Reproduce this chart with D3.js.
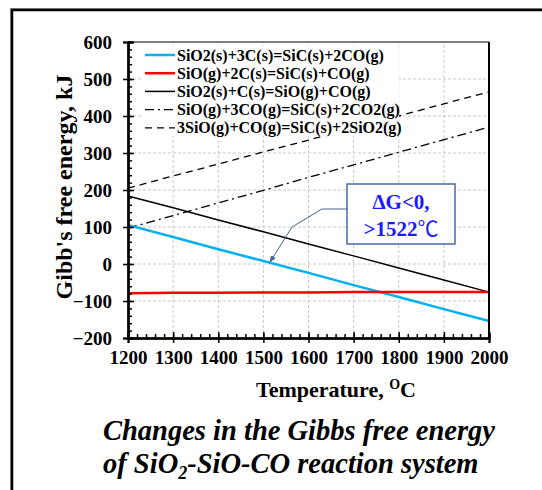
<!DOCTYPE html>
<html><head><meta charset="utf-8">
<script src="https://cdn.jsdelivr.net/npm/d3@7"></script>
<style>body{margin:0;background:#fff}svg{display:block}text{font-family:"Liberation Serif","Times New Roman",serif;}</style>
</head><body>
<svg id="c" width="542" height="490"></svg>
<script>
const temps = [1200,1300,1400,1500,1600,1700,1800,1900,2000];
const sio2_3c = [105,73,40,8,-24,-57,-89,-122,-154];
const sio_2c = [-79,-78,-78,-77,-77,-76,-76,-76,-76];
const sio2_c = [184,152,119,87,54,22,-11,-43,-76];
const sio_3co = [97,131,165,199,234,268,302,336,370];
const sio3_co = [205,238,270,303,335,368,400,433,465];
const seriesNames = ["SiO2(s)+3C(s)=SiC(s)+2CO(g)","SiO(g)+2C(s)=SiC(s)+CO(g)","SiO2(s)+C(s)=SiO(g)+CO(g)","SiO(g)+3CO(g)=SiC(s)+2CO2(g)","3SiO(g)+CO(g)=SiC(s)+2SiO2(g)"];
const xTicks = [1200,1300,1400,1500,1600,1700,1800,1900,2000];
const yTicks = [-200,-100,0,100,200,300,400,500,600];

const svg = d3.select("#c");
const FF = "'Liberation Serif','Times New Roman',serif";
// outer frame
svg.append("rect").attr("x",10.5).attr("y",8.5).attr("width",560).attr("height",520).attr("fill","none").attr("stroke","#999").attr("stroke-width",1);
svg.append("rect").attr("x",12).attr("y",10).attr("width",560).attr("height",520).attr("fill","none").attr("stroke","#000").attr("stroke-width",2.5);

const x = d3.scaleLinear().domain([1200,2000]).range([128,489]);
const y = d3.scaleLinear().domain([-200,600]).range([338,42]);

// grid
const g = svg.append("g");
g.selectAll(".gx").data(xTicks.slice(1,-1)).join("line")
  .attr("x1",d=>x(d)).attr("x2",d=>x(d)).attr("y1",y(-200)).attr("y2",y(600))
  .attr("stroke","#c8c8c8").attr("stroke-dasharray","3,2").attr("stroke-width",1);
g.selectAll(".gy").data(yTicks.slice(1,-1)).join("line")
  .attr("x1",x(1200)).attr("x2",x(2000)).attr("y1",d=>y(d)).attr("y2",d=>y(d))
  .attr("stroke","#c8c8c8").attr("stroke-dasharray","3,2").attr("stroke-width",1);

const styles = [
  {data:sio2_3c,color:"#00b0f0",w:2.5,dash:null},
  {data:sio_2c,color:"#ff0000",w:2.5,dash:null},
  {data:sio2_c,color:"#000",w:1.5,dash:null},
  {data:sio_3co,color:"#000",w:1.3,dash:"9,4,2,4"},
  {data:sio3_co,color:"#000",w:1.3,dash:"7,5"}
];
const line = d3.line().x((d,i)=>x(temps[i])).y(d=>y(d));
const plotOrder = [4,3,2,0,1];
plotOrder.forEach(k=>{
  const s=styles[k];
  svg.append("path").attr("d",line(s.data)).attr("fill","none").attr("stroke",s.color)
    .attr("stroke-width",s.w).attr("stroke-dasharray",s.dash);
});

// legend
const lg = svg.append("g");
lg.append("rect").attr("x",141).attr("y",46).attr("width",258).attr("height",90).attr("fill","#fff");
seriesNames.forEach((n,i)=>{
  const s=styles[i]; const yy=55+i*18.2;
  lg.append("line").attr("x1",145).attr("x2",175).attr("y1",yy).attr("y2",yy)
    .attr("stroke",s.color).attr("stroke-width",s.w).attr("stroke-dasharray",s.dash);
  lg.append("text").attr("x",177).attr("y",yy+5.5).attr("font-size",16).attr("font-weight","bold").attr("font-family",FF).text(n);
});

// plot frame top/right
svg.append("line").attr("x1",x(1200)).attr("x2",x(2000)).attr("y1",y(600)).attr("y2",y(600)).attr("stroke","#000").attr("stroke-width",1.2);
svg.append("line").attr("x1",x(2000)).attr("x2",x(2000)).attr("y1",y(600)).attr("y2",y(-200)).attr("stroke","#000").attr("stroke-width",2);

// axes
const xMinor = d3.range(1200,2001,20);
const yMinor = d3.range(-200,601,20);
const axG = svg.append("g").attr("transform",`translate(0,${y(-200)})`);
axG.call(d3.axisTop(x).tickValues(xMinor).tickSize(4).tickFormat(""));
axG.call(g=>g.append("g").call(d3.axisTop(x).tickValues(xTicks).tickSize(6).tickFormat("")));
axG.call(g=>g.append("g").call(d3.axisBottom(x).tickValues(xTicks).tickSize(5).tickPadding(8).tickFormat(d3.format("d"))));
axG.selectAll("path.domain").attr("stroke-width",2);
axG.selectAll("line").attr("stroke-width",1.5);
axG.selectAll("g").attr("font-family",FF);
axG.selectAll("text").attr("font-size",19).attr("font-weight","bold").attr("font-family",FF).attr("fill","#000");

const ayG = svg.append("g").attr("transform",`translate(${x(1200)},0)`);
ayG.call(d3.axisRight(y).tickValues(yMinor).tickSize(4).tickFormat(""));
ayG.call(g=>g.append("g").call(d3.axisRight(y).tickValues(yTicks).tickSize(6).tickFormat("")));
ayG.call(g=>g.append("g").call(d3.axisLeft(y).tickValues(yTicks).tickSize(5).tickPadding(11).tickFormat(d3.format("d"))));
ayG.selectAll("path.domain").attr("stroke-width",2);
ayG.selectAll("line").attr("stroke-width",1.5);
ayG.selectAll("g").attr("font-family",FF);
ayG.selectAll("text").attr("font-size",19).attr("font-weight","bold").attr("font-family",FF).attr("fill","#000");

// axis titles
const xt = svg.append("text").attr("x",336).attr("y",397).attr("text-anchor","middle").attr("font-size",22).attr("font-weight","bold").attr("font-family",FF);
xt.append("tspan").text("Temperature, ");
xt.append("tspan").attr("font-size",14).attr("dy",-8).text("O");
xt.append("tspan").attr("dy",8).text("C");
svg.append("text").attr("transform","translate(72,187) rotate(-90)").attr("text-anchor","middle").attr("font-family",FF)
  .attr("font-size",24).attr("font-weight","bold").text("Gibb's free energy, kJ");

// annotation
const ann = svg.append("g");
const arrowPts = [[347,209],[322,209],[292,227],[270,262]];
svg.append("defs").append("marker").attr("id","ah").attr("viewBox","0 0 10 10").attr("refX",9).attr("refY",5)
  .attr("markerWidth",7).attr("markerHeight",7).attr("orient","auto")
  .append("path").attr("d","M0,1 L10,5 L0,9 Z").attr("fill","#4a5f98");
ann.append("path").attr("d",d3.line()(arrowPts)).attr("fill","none").attr("stroke","#4a5f98").attr("stroke-width",1).attr("marker-end","url(#ah)");
ann.append("rect").attr("x",347).attr("y",184).attr("width",108).attr("height",60).attr("fill","#fff").attr("stroke","#4a6aa8").attr("stroke-width",1.5);
ann.append("text").attr("x",401).attr("y",209).attr("text-anchor","middle").attr("font-size",21).attr("font-weight","bold").attr("font-family",FF).attr("fill","#1a1aff").text("ΔG<0,");
const t2 = ann.append("text").attr("x",401).attr("y",236).attr("text-anchor","middle").attr("font-size",21).attr("font-weight","bold").attr("font-family",FF).attr("fill","#1a1aff");
t2.append("tspan").text(">1522");
t2.append("tspan").attr("font-family","'Noto Sans CJK SC',sans-serif").attr("font-weight","normal").text("℃");

// caption
svg.append("text").attr("x",103).attr("y",440).attr("font-size",28.5).attr("font-weight","bold").attr("font-style","italic").attr("font-family",FF).text("Changes in the Gibbs free energy");
const c2 = svg.append("text").attr("x",103).attr("y",473).attr("font-size",28.5).attr("font-weight","bold").attr("font-style","italic").attr("font-family",FF);
c2.append("tspan").text("of SiO");
c2.append("tspan").attr("font-size",18).attr("dy",6).text("2");
c2.append("tspan").attr("dy",-6).text("-SiO-CO reaction system");
</script>
</body></html>
